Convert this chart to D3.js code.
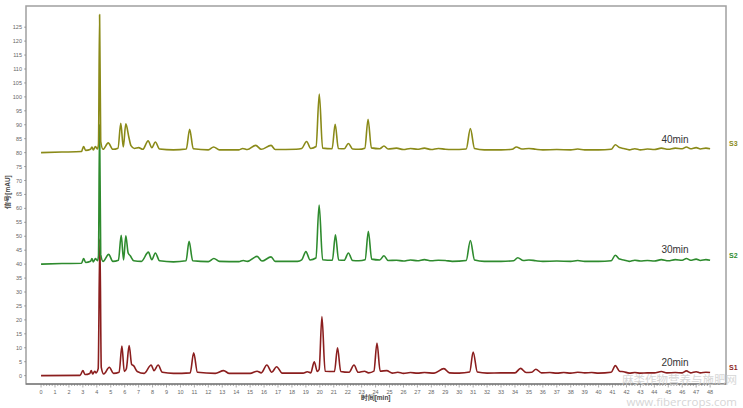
<!DOCTYPE html>
<html><head><meta charset="utf-8">
<script src="https://cdn.jsdelivr.net/npm/d3@7"></script>
<style>body{margin:0;background:#fff}svg{display:block}</style>
</head><body><svg id="c" width="743" height="408"></svg>
<script>
const seriesNames = ["S1","S2","S3"];
const seriesNotes = ["20min","30min","40min"];
const seriesColors = ["#8b1e1e","#2e8b2e","#8a8a18"];
const xTicks = d3.range(0,49,1);
const yTicks = d3.range(0,126,5);

const s1 = [[0,0],[2.8,0.1],[3.0,1.8],[3.15,0.4],[3.5,0.8],[3.6,1.8],[3.7,0.6],[3.85,1.6],[3.95,1.0],[4.1,2.5],[4.22,49],[4.32,3],[4.5,0.6],[4.9,3],[5.2,0.8],[5.6,1.2],[5.8,10.6],[5.97,1.5],[6.12,2.5],[6.32,10.8],[6.5,4],[6.65,3.5],[6.9,1.5],[7.4,0.8],[7.9,3.8],[8.1,1.8],[8.4,3.8],[8.7,1.2],[9.5,0.8],[10.7,1.0],[10.95,8.2],[11.22,1.2],[12.5,0.8],[13.1,1.8],[13.5,0.8],[15.0,0.8],[15.5,1.6],[15.8,1.0],[16.2,3.8],[16.55,1.2],[16.9,3.2],[17.3,0.9],[18.8,0.9],[19.1,1.4],[19.35,1.0],[19.6,5],[19.82,1.5],[19.95,2.2],[20.15,21.2],[20.38,1.6],[21.05,1.5],[21.27,10],[21.5,1.5],[22.1,1.2],[22.45,3.8],[22.75,1.2],[23.2,1.6],[23.5,1.0],[23.88,1.6],[24.1,11.7],[24.33,1.6],[24.8,1.8],[25.2,0.9],[25.6,1.2],[26,0.8],[26.5,1.1],[27,0.9],[27.5,1.1],[28.2,0.9],[28.9,2.5],[29.3,1.0],[30,0.9],[30.75,1.3],[31.0,8.5],[31.3,1.3],[32,0.9],[33,1.0],[34.0,1.0],[34.4,2.6],[34.8,1.1],[35.2,1.2],[35.5,2.3],[35.9,1.0],[36.5,1.1],[37,0.9],[37.5,1.1],[38,0.9],[38.5,1.2],[39,1.0],[39.5,1.1],[40,0.9],[40.9,1.2],[41.2,3.6],[41.5,1.6],[41.8,1.4],[42.2,0.9],[42.6,1.1],[43,0.9],[43.5,1.0],[44,1.0],[44.5,1.5],[44.9,1.0],[45.5,1.1],[46,1.0],[46.3,1.7],[46.6,1.0],[47,1.4],[47.3,1.0],[47.7,1.2],[48,1.1]];

const s2 = [[0,40],[1.5,40.2],[2.9,40.3],[3.05,42],[3.2,40.6],[3.55,41],[3.65,42],[3.75,40.8],[3.9,42],[4.05,41.2],[4.12,43],[4.2,90],[4.28,43.5],[4.45,41],[4.85,43.5],[5.15,41],[5.55,41.4],[5.75,50.3],[5.92,41.5],[6.08,50.2],[6.25,44],[6.4,43],[6.65,41.2],[7.2,41],[7.7,44.3],[7.95,41.6],[8.2,44],[8.5,41.2],[9.5,40.8],[10.4,41.2],[10.62,48.2],[10.88,41.2],[12.0,40.9],[12.4,42],[12.8,41],[14.2,40.9],[14.5,41.3],[14.8,41],[15.5,42.8],[15.85,41.1],[16.5,42.6],[16.8,41],[18.4,41],[18.7,41.5],[19.0,44.5],[19.3,41.5],[19.72,42.2],[19.95,61.2],[20.2,41.6],[20.9,41.4],[21.12,50.5],[21.35,41.5],[21.75,41.4],[22.05,44],[22.35,41.3],[22.8,41.2],[23.25,41.6],[23.48,51.8],[23.72,41.8],[24.3,41.5],[24.6,43],[24.9,41.3],[25.5,41.4],[26,41.1],[26.5,41.5],[27,41.2],[27.5,41.6],[28,41.2],[28.5,41.4],[29,41.3],[29.5,41],[30.5,41.3],[30.8,48.5],[31.1,41.5],[31.8,41],[33,41],[33.9,41.2],[34.2,42.3],[34.6,41.3],[35,41.5],[35.5,41.2],[36,41],[37,41.1],[38,41],[38.5,41.3],[39,41],[40,41],[40.9,41.2],[41.2,43.2],[41.5,41.8],[41.8,41.5],[42.2,41],[42.6,41.4],[43,41.1],[43.5,41.3],[44,41.1],[44.5,41.6],[45,41.2],[45.5,41.6],[46,41.4],[46.3,42],[46.6,41.4],[47,41.8],[47.3,41.3],[47.7,41.6],[48,41.4]];

const s3 = [[0,80],[1.5,80.2],[2.9,80.4],[3.05,82.2],[3.2,80.8],[3.55,81.2],[3.65,82],[3.75,81],[3.9,82.2],[4.05,81.3],[4.12,83],[4.2,129.5],[4.28,84],[4.45,81.2],[4.82,83.5],[5.15,81.2],[5.52,81.6],[5.72,90.5],[5.9,82],[6.08,90.3],[6.3,85.5],[6.45,82.5],[6.7,81.5],[7.0,81.8],[7.3,81.2],[7.68,84.2],[7.95,81.8],[8.2,83.8],[8.5,81.3],[9.5,81],[10.42,81.3],[10.66,88.4],[10.92,81.4],[12.0,81],[12.38,82],[12.8,81],[14.2,81],[14.47,81.5],[14.8,81.1],[15.4,82.6],[15.8,81.2],[16.5,82.6],[16.8,81.1],[18.3,81.2],[18.7,81.5],[19.05,84],[19.35,81.5],[19.73,82.2],[19.96,101],[20.2,81.6],[20.88,81.4],[21.1,90.2],[21.33,81.5],[21.75,81.4],[22.05,83.3],[22.35,81.3],[22.8,81.2],[23.23,81.6],[23.46,92],[23.7,81.7],[24.3,81.4],[24.6,82.4],[24.9,81.3],[25.5,81.6],[26,81.1],[26.5,81.5],[27,81.2],[27.5,81.6],[28,81.1],[28.5,81.5],[29,81.2],[29.5,81.1],[30.5,81.3],[30.8,88.6],[31.1,81.5],[31.8,81],[33,81],[33.8,81.2],[34.1,82],[34.5,81.3],[35,81.5],[35.5,81.2],[36,81],[37,81.1],[38,81],[38.5,81.3],[39,81],[40,81],[40.9,81.2],[41.2,82.8],[41.5,81.8],[41.8,81.5],[42.2,81],[42.6,81.4],[43,81],[43.5,81.3],[44,81.1],[44.5,81.6],[45,81.2],[45.5,81.6],[46,81.4],[46.3,82],[46.6,81.4],[47,81.8],[47.3,81.3],[47.7,81.6],[48,81.4]];

const seriesData = [s1,s2,s3];

const svg = d3.select("#c");
const x = d3.scaleLinear().domain([-1.08,49.14]).range([26,726]);
const y = d3.scaleLinear().domain([-3,132.6]).range([384,6]);
const font = "'Liberation Sans', Arial, sans-serif";

// frame
svg.append("rect").attr("x",26).attr("y",6).attr("width",700).attr("height",378)
  .attr("fill","none").attr("stroke","#a0a0a0").attr("stroke-width",1.5);

// x axis
const xa = svg.append("g").attr("transform","translate(0,384)");
xa.append("line").attr("x1",26).attr("x2",726).attr("stroke","#666").attr("stroke-width",1);
xa.selectAll("line.minor").data(d3.range(0,48.01,0.2)).join("line")
  .attr("x1",d=>x(d)).attr("x2",d=>x(d)).attr("y1",0)
  .attr("y2",d=>Math.abs(d-Math.round(d))<1e-6?3.5:2)
  .attr("stroke","#777").attr("stroke-width",0.6);
xa.selectAll("text").data(xTicks).join("text")
  .attr("x",d=>x(d)).attr("y",9.5).attr("text-anchor","middle")
  .attr("font-family",font).attr("font-size",5.5).attr("fill","#666").text(d=>d);
svg.append("text").attr("x",x(24)).attr("y",400).attr("text-anchor","middle")
  .attr("font-family",font).attr("font-size",6.5).attr("font-weight","bold").attr("fill","#444").text("时间[min]");

// y axis
const ya = svg.append("g");
ya.selectAll("line").data(yTicks).join("line")
  .attr("x1",24).attr("x2",26).attr("y1",d=>y(d)).attr("y2",d=>y(d)).attr("stroke","#777").attr("stroke-width",0.6);
ya.selectAll("text").data(yTicks).join("text")
  .attr("x",22).attr("y",d=>y(d)+2).attr("text-anchor","end")
  .attr("font-family",font).attr("font-size",5.5).attr("fill","#666").text(d=>d);
svg.append("text").attr("transform","translate(10,192) rotate(-90)").attr("text-anchor","middle")
  .attr("font-family",font).attr("font-size",6.5).attr("font-weight","bold").attr("fill","#444").text("信号[mAU]");

// traces
const line = d3.line().x(d=>x(d[0])).y(d=>y(d[1])).curve(d3.curveMonotoneX);
seriesData.forEach((s,i)=>{
  svg.append("path").datum(s).attr("d",line).attr("fill","none")
    .attr("stroke",seriesColors[i]).attr("stroke-width",1.6).attr("stroke-linejoin","round");
});

// labels
const noteY = [366,253,143];
const sY = [370,258,146];
seriesData.forEach((s,i)=>{
  svg.append("text").attr("x",675).attr("y",noteY[i]).attr("text-anchor","middle")
    .attr("font-family",font).attr("font-size",10).attr("fill","#333").text(seriesNotes[i]);
  svg.append("text").attr("x",729).attr("y",sY[i])
    .attr("font-family",font).attr("font-size",7).attr("font-weight","bold").attr("fill",seriesColors[i]).text(seriesNames[i]);
});

// watermark
svg.append("text").attr("x",737).attr("y",383.5).attr("text-anchor","end")
  .attr("font-family","'Noto Sans CJK SC', sans-serif").attr("font-size",11.5).attr("fill","#cfcfcf").attr("opacity",0.85).text("麻类作物营养与施肥网");
svg.append("text").attr("x",737).attr("y",406).attr("text-anchor","end")
  .attr("font-family","'Open Sans', sans-serif").attr("font-size",11.5).attr("fill","#cfcfcf").attr("opacity",0.85).text("www.fibercrops.com");
</script></body></html>
